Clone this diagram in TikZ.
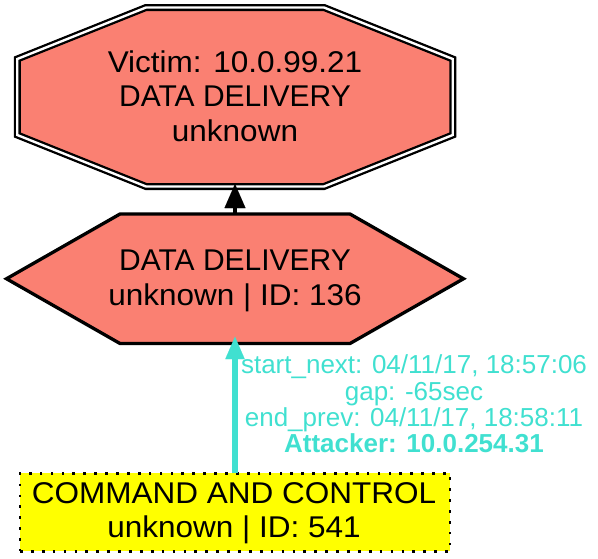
\documentclass[tikz,border=0pt]{standalone}
\usepackage{fontspec}
\setmainfont{Liberation Sans}
\usepackage{graphicx}
\usetikzlibrary{arrows.meta,calc}
\definecolor{salmonc}{HTML}{FA8072}
\definecolor{turq}{HTML}{40E0D0}
\definecolor{yel}{HTML}{FFFF00}
\newcommand{\wideline}[1]{\scalebox{1.05}[1]{#1}}
\begin{document}
\begin{tikzpicture}[x=1pt,y=-1pt,
  frame/.style={draw=none,inner sep=0pt,outer sep=0pt},
  maintext/.style={inner sep=0pt,outer sep=0pt,align=center,font=\fontsize{30}{34.7}\selectfont,text depth=0pt},
  lbltext/.style={inner sep=0pt,outer sep=0pt,align=center,text=turq,font=\fontsize{26}{26.3}\selectfont,text depth=0pt},
  octline/.style={fill=salmonc,draw=black,line width=2.3pt,double=white,double distance=2.4pt,line join=miter},
  hexline/.style={fill=salmonc,draw=black,line width=3.3pt,line join=miter},
  ccbox/.style={draw=black,fill=yel,line width=2.7pt,dash pattern=on 2.7pt off 8.2pt,inner sep=0pt,outer sep=0pt},
  blackarrow/.style={draw=black,line width=3.3pt,-{Triangle[length=24pt,width=21pt,line width=0.01pt]}},
  cyanarrow/.style={draw=turq,line width=6pt,-{Triangle[length=22.5pt,width=19.5pt,line width=0.01pt]}}
]
\useasboundingbox (0,0) rectangle (598,558);
% victim octagon
\node[frame,minimum width=435.5pt,minimum height=179pt] (oct) at (235,97) {};
\draw[octline] ($(oct.north west)+(128.75,0)$) -- ($(oct.north east)+(-128.75,0)$)
  -- ($(oct.north east)+(0,51.5)$) -- ($(oct.south east)+(0,-51.5)$)
  -- ($(oct.south east)+(-128.75,0)$) -- ($(oct.south west)+(128.75,0)$)
  -- ($(oct.south west)+(0,-51.5)$) -- ($(oct.north west)+(0,51.5)$) -- cycle;
% hexagon
\node[frame,minimum width=457pt,minimum height=129.5pt] (hex) at (235,278.75) {};
\draw[hexline] ($(hex.north west)+(113.5,0)$) -- ($(hex.north east)+(-113.5,0)$)
  -- (hex.east) -- ($(hex.south east)+(-113.5,0)$) -- ($(hex.south west)+(113.5,0)$)
  -- (hex.west) -- cycle;
% command and control box
\node[ccbox,minimum width=430pt,minimum height=78pt] (cc) at (235,512.3) {};
% texts
\node[maintext] (octtxt) at (235,96) {\wideline{Victim: 10.0.99.21}\\DATA DELIVERY\\\wideline{unknown}};
\node[maintext] (hextxt) at (235,277.6) {DATA DELIVERY\\\wideline{unknown | ID: 136}};
\node[maintext] (cctxt) at (234,510) {\wideline{COMMAND AND CONTROL}\\\wideline{unknown | ID: 541}};
% connectors
\draw[blackarrow] (hex.north) -- ([yshift=2.5pt]oct.south);
\draw[cyanarrow] (cc.north) -- ([yshift=6.8pt]hex.south);
\node[lbltext] (lbl) at (414,404) {start\_next: 04/11/17, 18:57:06\\gap: -65sec\\end\_prev: 04/11/17, 18:58:11\\\textbf{Attacker: 10.0.254.31}};
\end{tikzpicture}
\end{document}
